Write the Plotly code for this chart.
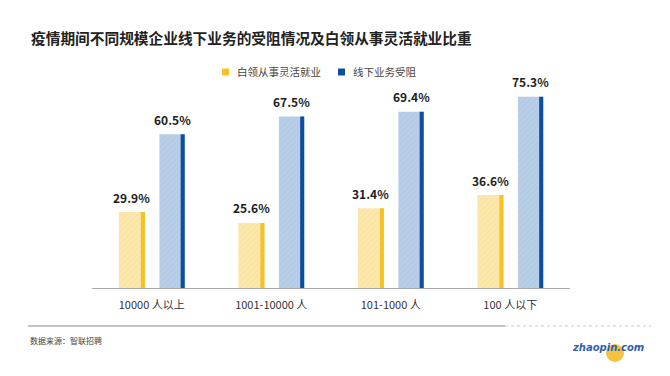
import plotly.graph_objects as go

categories = ["10000 人以上", "1001-10000 人", "101-1000 人", "100 人以下"]
series_names = ["白领从事灵活就业", "线下业务受阻"]
flexible = [29.9, 25.6, 31.4, 36.6]
blocked = [60.5, 67.5, 69.4, 75.3]

title = "疫情期间不同规模企业线下业务的受阻情况及白领从事灵活就业比重"
source = "数据来源：智联招聘"

FONT = "Noto Sans CJK SC"
W, H = 670, 376
ml, mr, mt, mb = 92, 100, 34, 88

Y_LIGHT, Y_HATCH, Y_DARK = "#FCE8AC", "#F5D98A", "#F5C125"
B_LIGHT, B_HATCH, B_DARK = "#B9CEE7", "#A8C0DF", "#0D4EA0"

fig = go.Figure()

def add_series(vals, off, wid, light, hatch, dark, stripe_w):
    fig.add_bar(x=categories, y=vals, offset=off, width=wid,
                marker=dict(color=light, line=dict(width=0),
                            pattern=dict(shape="/", fgcolor=hatch, bgcolor=light,
                                         size=4, solidity=0.25)),
                showlegend=False, hoverinfo="skip")
    fig.add_bar(x=categories, y=vals, offset=off + wid - stripe_w, width=stripe_w,
                marker=dict(color=dark, line=dict(width=0)),
                showlegend=False, hoverinfo="skip")
    for i, v in enumerate(vals):
        fig.add_annotation(x=i + off + wid / 2, y=v, text=f"<b>{v:.1f}%</b>",
                           showarrow=False, yshift=15,
                           font=dict(family=FONT, size=12, color="#222"))

add_series(flexible, -0.275, 0.218, Y_LIGHT, Y_HATCH, Y_DARK, 0.034)
add_series(blocked, 0.064, 0.212, B_LIGHT, B_HATCH, B_DARK, 0.034)

PW, PH = W - ml - mr, H - mt - mb
def px_x(p):
    return (p - ml) / PW
def px_y(p):
    return (H - mb - p) / PH

# legend (manual)
leg = [(222, series_names[0], Y_DARK), (338, series_names[1], B_DARK)]
for px, name, col in leg:
    fig.add_shape(type="rect", xref="paper", yref="paper",
                  x0=px_x(px), x1=px_x(px + 7), y0=px_y(75.5), y1=px_y(68.5),
                  fillcolor=col, line=dict(width=0))
    fig.add_annotation(xref="paper", yref="paper", x=px_x(px + 13), y=px_y(72),
                       xanchor="left", yanchor="middle", text=name, showarrow=False,
                       font=dict(family=FONT, size=10.5, color="#444"))

# footer line and source
fig.add_shape(type="line", xref="paper", yref="paper",
              x0=px_x(28), x1=px_x(505), y0=px_y(326), y1=px_y(326),
              line=dict(color="#8a8a8a", width=1.2))
fig.add_shape(type="line", xref="paper", yref="paper",
              x0=px_x(505), x1=px_x(651), y0=px_y(326), y1=px_y(326),
              line=dict(color="#c8c8c8", width=1, dash="dot"))
fig.add_annotation(xref="paper", yref="paper", x=px_x(28), y=px_y(340),
                   xanchor="left", yanchor="middle", text=source, showarrow=False,
                   font=dict(family=FONT, size=8, color="#444"))
# logo
fig.add_shape(type="circle", xref="paper", yref="paper",
              x0=px_x(606), x1=px_x(624), y0=px_y(362), y1=px_y(344),
              fillcolor="#F6B71F", line=dict(width=0), opacity=0.85)
fig.add_annotation(xref="paper", yref="paper", x=px_x(646), y=px_y(347),
                   xanchor="right", yanchor="middle",
                   text="<b><i>zhaopin.com</i></b>", showarrow=False,
                   font=dict(family="DejaVu Sans", size=10, color="#2F5FB0"))

fig.update_layout(
    width=W, height=H, margin=dict(l=ml, r=mr, t=mt, b=mb),
    paper_bgcolor="white", plot_bgcolor="white", barmode="overlay",
    title=dict(text=title, x=31 / W, xanchor="left", y=1 - 39 / H, yanchor="middle",
               font=dict(family=FONT, size=14.7, color="#222", weight="bold")),
    xaxis=dict(showgrid=False, showline=True, linecolor="#aaaaaa", linewidth=1,
               ticks="", ticklabelstandoff=7,
               tickfont=dict(family=FONT, size=11, color="#333"),
               range=[-0.5, 3.5]),
    yaxis=dict(visible=False, range=[0, 100]),
    showlegend=False,
)

fig.write_html("out.html", config={"displayModeBar": False},
               post_script="document.body.style.margin='0';")
